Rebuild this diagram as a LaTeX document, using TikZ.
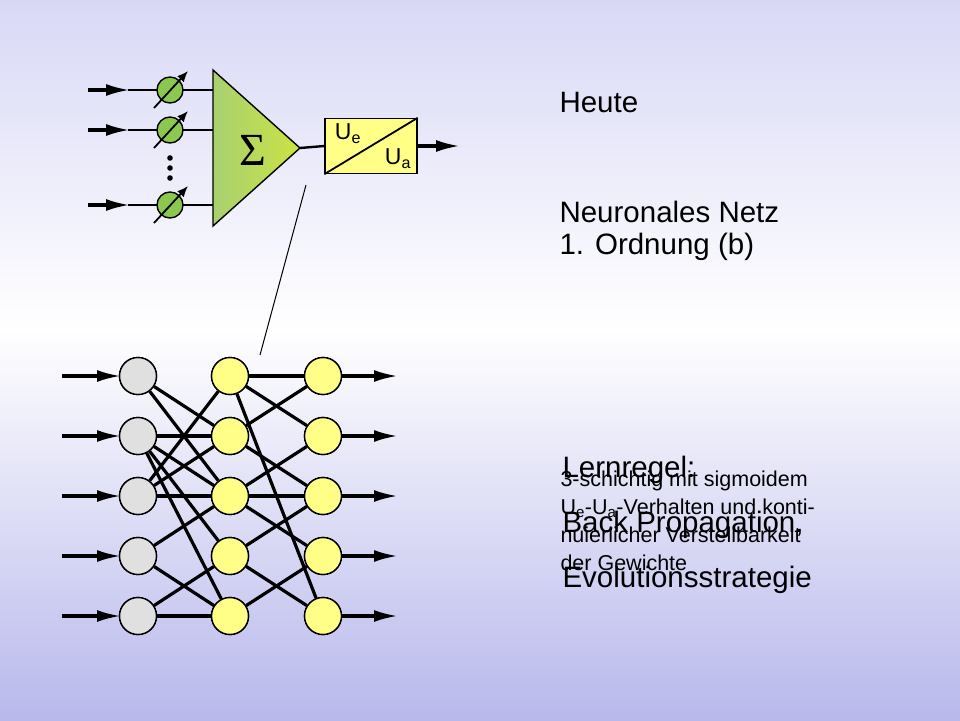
\documentclass[tikz,border=0pt]{standalone}
\usepackage{fontspec}
\setmainfont{Liberation Sans}
\newfontfamily\sigmafont{Liberation Serif}
\usetikzlibrary{arrows.meta, positioning}
\definecolor{lavtop}{HTML}{D8D8F6}
\definecolor{lavbot}{HTML}{B8B8EC}
\definecolor{wgreen}{HTML}{8CC850}
\definecolor{tgreen}{HTML}{A8D070}
\definecolor{nyel}{HTML}{FFFF88}
\definecolor{ngray}{HTML}{E0E0E0}
\begin{document}
\begin{tikzpicture}[x=1pt,y=-1pt,
  wire/.style={line width=3.2pt},
  inarrow/.style={line width=3.2pt,-{Latex[length=24pt,width=12pt]}},
  weight/.style={draw,circle,fill=wgreen,minimum size=26pt,inner sep=0pt,line width=1.4pt},
  neuron/.style={draw,circle,fill=nyel,minimum size=37pt,inner sep=0pt,line width=1.4pt},
  inneuron/.style={neuron,fill=ngray},
  bigtext/.style={anchor=west,font=\fontsize{29.5}{34}\selectfont},
  smalltext/.style={anchor=west,font=\fontsize{21.5}{28}\selectfont,align=left}]
\useasboundingbox (0,0) rectangle (960,720);
\shade[top color=lavtop,bottom color=white] (0,0) rectangle (960,330);
\shade[top color=white,bottom color=lavbot] (0,330) rectangle (960,720);
% single neuron
\foreach \y [count=\i] in {90,130,205}{
  \draw[inarrow] (88,\y) -- (130,\y);
  \draw[line width=2.4pt] (128,\y) -- (213,\y);
  \node[weight] (w\i) at (170,\y) {};
  \draw[line width=1.8pt,-{Latex[length=11pt,width=9pt]}] (154,\y+18) -- (188,\y-19);
}
\foreach \y in {158,168,178} \fill (170,\y) circle (2.8pt);
\shade[draw,line width=1.4pt,left color=tgreen,right color=tgreen!60!yellow] (213,70) -- (300,148) -- (213,226) -- cycle;
\coordinate (tip) at (300,148);
\node[font=\sigmafont\fontsize{46}{46}\selectfont] (sum) at (253,150) {Σ};
\node[draw,fill=nyel,line width=1.4pt,minimum width=92pt,minimum height=55pt,inner sep=0pt] (act) at (371,146) {};
\draw[line width=1.8pt] (act.south west) -- (act.north east);
\node[font=\fontsize{23}{23}\selectfont] at (348,134) {U\textsubscript{e}};
\node[font=\fontsize{23}{23}\selectfont] at (398,159) {U\textsubscript{a}};
\draw[line width=2.4pt] (tip) -- (act.west);
\draw[inarrow] (act.east) -- (460,146);
\draw[line width=1pt] (306,185) -- (260,355);
% network
\foreach \i/\y in {1/376,2/436,3/496,4/556,5/616}{
  \draw[inarrow] (62,\y) -- (121,\y);
  \node[inneuron] (I\i) at (138,\y) {};
  \node[neuron] (H\i) at (230,\y) {};
  \node[neuron] (O\i) at (323,\y) {};
  \draw[inarrow] (O\i.east) -- (398,\y);
}
\foreach \a/\b in {1/2,1/3,2/2,2/3,2/4,2/5,3/1,3/2,3/3,4/3,4/5,5/4,5/5}
  \draw[wire] (I\a) -- (H\b);
\foreach \a/\b in {1/1,1/2,1/5,2/1,2/3,3/2,3/3,3/4,4/3,4/5,5/4}
  \draw[wire] (H\a) -- (O\b);
\foreach \i in {1,...,5}{
  \node[inneuron] at (I\i) {};
  \node[neuron] at (H\i) {};
  \node[neuron] at (O\i) {};
}
% texts
\node[bigtext] (heute) at (556,102) {Heute};
\node[bigtext] (netz) at (556,212) {Neuronales Netz};
\node[bigtext] (ord) at (556,247) {1. Ordnung (b)};
\node[bigtext] (lern) at (559,470) {Lernregel:};
\node[bigtext] (bp) at (559,525) {Back Propagation,};
\node[bigtext] (evo) at (559,580) {Evolutionsstrategie};
\node[smalltext] (desc) at (557,521) {3-schichtig mit sigmoidem\\U\textsubscript{e}-U\textsubscript{a}-Verhalten und konti-\\nuierlicher Verstellbarkeit\\der Gewichte};
\end{tikzpicture}
\end{document}
